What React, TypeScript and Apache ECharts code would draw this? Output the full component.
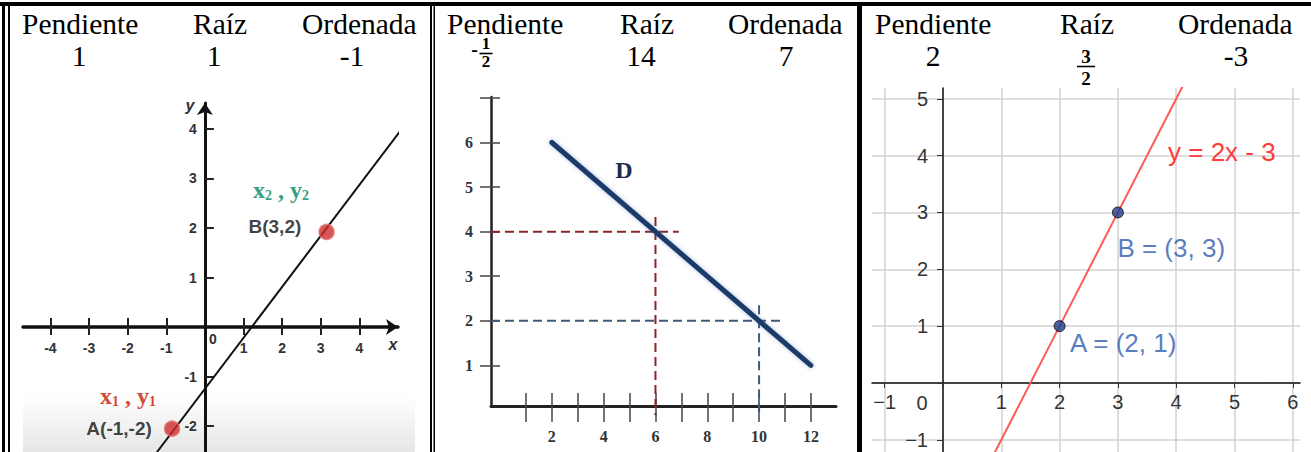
import React, { useEffect, useRef } from "react";
import * as echarts from "echarts";

// ---------- data ----------
const headerTitles = ["Pendiente", "Raíz", "Ordenada"];
const slopes = ["1", "-1/2", "2"];
const roots = ["1", "14", "3/2"];
const intercepts = ["-1", "7", "-3"];

// cell 1
const line1Values = [[-1.24, -2.52], [5.13, 4.03]];
const cell1PointNames = ["A(-1,-2)", "B(3,2)"];
const cell1PointValues = [[-0.85, -2.05], [3.15, 1.92]];
const ticks1X = [-4, -3, -2, -1, 1, 2, 3, 4];
const ticks1Y = [-2, -1, 1, 2, 3, 4];

// cell 2
const lineDValues = [[2, 6], [12, 1]];
const redGuideH = [[-0.35, 4], [6.9, 4]];
const redGuideV = [[6, 4.33], [6, -0.12]];
const blueGuideH = [[-0.35, 2], [10.95, 2]];
const blueGuideV = [[10, 2.35], [10, -0.12]];
const ticks2X = [1, 2, 3, 4, 5, 6, 7, 8, 9, 10, 11, 12];
const labels2X = [2, 4, 6, 8, 10, 12];
const ticks2Y = [1, 2, 3, 4, 5, 6, 7];
const labels2Y = [1, 2, 3, 4, 5, 6];

// cell 3
const line3Values = [[0.8, -1.4], [4.2, 5.4]];
const cell3PointNames = ["A = (2, 1)", "B = (3, 3)"];
const cell3PointValues = [[2, 1], [3, 3]];
const grid3X = [-1, 0, 1, 2, 3, 4, 5, 6];
const labels3X = [-1, 1, 2, 3, 4, 5, 6];
const grid3Y = [-1, 0, 1, 2, 3, 4, 5];
const labels3Y = [-1, 1, 2, 3, 4, 5];
const equation3 = "y = 2x - 3";

// ---------- layout / style ----------
const SERIF = "'Liberation Serif', 'Times New Roman', serif";
const SANS = "'Liberation Sans', Arial, sans-serif";

const G1 = { left: 23, top: 103, width: 375, height: 349, xMin: -4.71, xMax: 5.0, yMin: -2.52, yMax: 4.52 };
const G2 = { left: 491, top: 97, width: 345, height: 309, xMin: -0.35, xMax: 12.97, yMin: 0.09, yMax: 7.02 };
const G3 = { left: 872, top: 88, width: 428, height: 364, xMin: -1.218, xMax: 6.124, yMin: -1.215, yMax: 5.19 };

// offsets that put an axis on the other axis' zero
const xOffsetOnZero = (g: any) => -(g.height * (0 - g.yMin)) / (g.yMax - g.yMin);
const yOffsetOnZero = (g: any) => -(g.width * (0 - g.xMin)) / (g.xMax - g.xMin);

const titleX = [[22, 193, 302], [447, 620, 728], [875, 1060, 1178]];
const valueCX = [[79, 214, 352], [486, 641, 786], [933, 1086, 1236]];
const fracLayout = [
  null,
  { size: 17, num: 43, bar: 53.5, den: 61.5, half: 6.5, minusX: 474.5, lh: 15 },
  { size: 19, num: 56.5, bar: 66.5, den: 78.5, half: 9, minusX: 0, lh: 19 },
];

function txt(x: number, y: number, text: string, opts: any = {}) {
  const align = opts.align || "left";
  return {
    type: "text",
    x,
    y,
    z: 20,
    style: {
      text,
      fontFamily: opts.family || SERIF,
      fontSize: opts.size || 29.5,
      fontWeight: opts.weight || "normal",
      fontStyle: opts.style || "normal",
      fill: opts.color || "#000",
      align,
      textAlign: align,
      verticalAlign: "middle",
      textVerticalAlign: "middle",
      lineHeight: opts.lineHeight,
      rich: opts.rich,
    },
  };
}

function buildHeader() {
  const els: any[] = [];
  for (let c = 0; c < 3; c++) {
    headerTitles.forEach((t, i) => els.push(txt(titleX[c][i], 24, t)));
    const vals = [slopes[c], roots[c], intercepts[c]];
    vals.forEach((v, i) => {
      const cx = valueCX[c][i];
      if (v.includes("/")) {
        const f = fracLayout[c]!;
        const neg = v.startsWith("-");
        const [n, d] = v.replace("-", "").split("/");
        if (neg) els.push(txt(f.minusX, f.num + 6, "-", { size: 20, weight: "bold", align: "center", lineHeight: 8 }));
        els.push(txt(cx, f.num, n, { size: f.size, weight: "bold", align: "center", lineHeight: f.lh }));
        els.push({
          type: "line",
          z: 20,
          shape: { x1: cx - f.half, y1: f.bar, x2: cx + f.half, y2: f.bar },
          style: { stroke: "#000", lineWidth: 1.6 },
        });
        els.push(txt(cx, f.den, d, { size: f.size, weight: "bold", align: "center", lineHeight: f.lh }));
      } else {
        els.push(txt(cx, 56, v, { align: "center" }));
      }
    });
  }
  return els;
}

function buildBorders() {
  const r = (x: number, y: number, w: number, h: number) => ({
    type: "rect",
    z: 30,
    shape: { x, y, width: w, height: h },
    style: { fill: "#000" },
  });
  return [
    r(0, 2, 1311, 4),
    r(2, 2, 3, 450),
    r(8, 6, 2, 446),
    r(430, 2, 2, 450),
    r(433.5, 2, 1.5, 450),
    r(857, 2, 5, 450),
  ];
}

const gridOf = (g: any) => ({
  left: g.left, top: g.top, width: g.width, height: g.height,
  containLabel: false, outerBoundsMode: "none",
});

const minus = (v: number) => String(v).replace("-", "\u2212");

const option: any = {
  animation: false,
  backgroundColor: "#ffffff",
  grid: [gridOf(G1), gridOf(G2), gridOf(G3)],
  xAxis: [
    {
      type: "value", gridIndex: 0, min: G1.xMin, max: G1.xMax, position: "bottom", offset: xOffsetOnZero(G1),
      axisLine: { show: true, onZero: false, symbol: ["none", "arrow"], symbolSize: [12, 12], lineStyle: { color: "#111", width: 3.5 } },
      axisTick: { show: true, inside: true, length: 9, customValues: ticks1X, lineStyle: { color: "#222", width: 2 } },
      axisLabel: { show: true, customValues: ticks1X, margin: 14, fontFamily: SANS, fontWeight: "bold", fontSize: 14, color: "#333" },
      splitLine: { show: false },
    },
    {
      type: "value", gridIndex: 0, min: G1.xMin, max: G1.xMax, position: "bottom", offset: xOffsetOnZero(G1),
      axisLine: { show: false, onZero: false },
      axisTick: { show: true, inside: false, length: 8, customValues: ticks1X, lineStyle: { color: "#222", width: 2 } },
      axisLabel: { show: false },
      splitLine: { show: false },
    },
    {
      type: "value", gridIndex: 1, min: G2.xMin, max: G2.xMax, position: "bottom",
      axisLine: { show: true, onZero: false, lineStyle: { color: "#222", width: 3 } },
      axisTick: { show: true, inside: false, length: 16, customValues: ticks2X, lineStyle: { color: "#444", width: 1.5 } },
      axisLabel: { show: true, customValues: labels2X, margin: 22, fontFamily: SERIF, fontWeight: "bold", fontSize: 16, color: "#333" },
      splitLine: { show: false },
    },
    {
      type: "value", gridIndex: 1, min: G2.xMin, max: G2.xMax, position: "bottom",
      axisLine: { show: false, onZero: false },
      axisTick: { show: true, inside: true, length: 13, customValues: ticks2X, lineStyle: { color: "#444", width: 1.5 } },
      axisLabel: { show: false },
      splitLine: { show: false },
    },
    {
      type: "value", gridIndex: 2, min: G3.xMin, max: G3.xMax, position: "bottom", offset: xOffsetOnZero(G3),
      axisLine: { show: true, onZero: false, lineStyle: { color: "#111", width: 1.5 } },
      axisTick: { show: true, inside: false, length: 5, customValues: grid3X, lineStyle: { color: "#333", width: 1 } },
      axisLabel: { show: true, customValues: labels3X, margin: 9, fontFamily: SANS, fontSize: 20, color: "#333", formatter: minus },
      splitLine: { show: true, lineStyle: { color: "#d2d2d2", width: 1.5 } },
    },
  ],
  yAxis: [
    {
      type: "value", gridIndex: 0, min: G1.yMin, max: G1.yMax, position: "left", offset: yOffsetOnZero(G1),
      axisLine: { show: true, onZero: false, symbol: ["none", "arrow"], symbolSize: [12, 12], lineStyle: { color: "#111", width: 3 } },
      axisTick: { show: true, inside: true, length: 9, customValues: ticks1Y, lineStyle: { color: "#222", width: 2 } },
      axisLabel: { show: true, customValues: ticks1Y, margin: 8, fontFamily: SANS, fontWeight: "bold", fontSize: 14, color: "#333" },
      splitLine: { show: false },
    },
    {
      type: "value", gridIndex: 1, min: G2.yMin, max: G2.yMax, position: "left",
      axisLine: { show: true, onZero: false, lineStyle: { color: "#222", width: 2.5 } },
      axisTick: { show: true, inside: false, length: 11, customValues: ticks2Y, lineStyle: { color: "#444", width: 1.5 } },
      axisLabel: { show: true, customValues: labels2Y, margin: 18, fontFamily: SERIF, fontWeight: "bold", fontSize: 16, color: "#333" },
      splitLine: { show: false },
    },
    {
      type: "value", gridIndex: 1, min: G2.yMin, max: G2.yMax, position: "left",
      axisLine: { show: false, onZero: false },
      axisTick: { show: true, inside: true, length: 9, customValues: ticks2Y, lineStyle: { color: "#444", width: 1.5 } },
      axisLabel: { show: false },
      splitLine: { show: false },
    },
    {
      type: "value", gridIndex: 2, min: G3.yMin, max: G3.yMax, position: "left", offset: yOffsetOnZero(G3),
      axisLine: { show: true, onZero: false, lineStyle: { color: "#111", width: 1.5 } },
      axisTick: { show: true, inside: false, length: 6, customValues: grid3Y, lineStyle: { color: "#333", width: 1 } },
      axisLabel: { show: true, customValues: labels3Y, margin: 15, fontFamily: SANS, fontSize: 20, color: "#333", formatter: minus },
      splitLine: { show: true, lineStyle: { color: "#d2d2d2", width: 1.5 } },
    },
  ],
  series: [
    {
      type: "line", xAxisIndex: 0, yAxisIndex: 0, data: line1Values, symbol: "none", silent: true, z: 3,
      lineStyle: { color: "#111", width: 2 },
    },
    {
      type: "scatter", xAxisIndex: 0, yAxisIndex: 0, z: 4, symbolSize: 15,
      itemStyle: { color: "#cc2a2a", borderColor: "#e87070", borderWidth: 1.5 },
      label: { show: true, formatter: "{b}", position: "left", fontFamily: SANS, fontWeight: "bold", fontSize: 19, color: "#111" },
      data: cell1PointNames.map((n, i) => ({
        name: n,
        value: cell1PointValues[i],
        label: i === 0 ? { distance: 12 } : { distance: 17, offset: [0, -5] },
      })),
    },
    {
      type: "line", xAxisIndex: 2, yAxisIndex: 1, data: redGuideH, symbol: "none", silent: true, z: 2,
      lineStyle: { color: "#8b2525", width: 2, type: [9, 5] },
    },
    {
      type: "line", xAxisIndex: 2, yAxisIndex: 1, data: redGuideV, symbol: "none", silent: true, z: 2, clip: false,
      lineStyle: { color: "#8b2525", width: 2, type: [9, 5] },
    },
    {
      type: "line", xAxisIndex: 2, yAxisIndex: 1, data: blueGuideH, symbol: "none", silent: true, z: 2,
      lineStyle: { color: "#3f5a78", width: 2, type: [9, 5] },
    },
    {
      type: "line", xAxisIndex: 2, yAxisIndex: 1, data: blueGuideV, symbol: "none", silent: true, z: 2, clip: false,
      lineStyle: { color: "#3f5a78", width: 2, type: [9, 5] },
    },
    {
      type: "line", xAxisIndex: 2, yAxisIndex: 1, data: lineDValues, symbol: "none", silent: true, z: 3,
      lineStyle: { color: "#1c3a68", width: 5, cap: "round", shadowColor: "rgba(70,110,180,0.45)", shadowBlur: 4 },
    },
    {
      type: "line", xAxisIndex: 4, yAxisIndex: 3, data: line3Values, symbol: "none", silent: true, z: 3,
      lineStyle: { color: "#ff5a5a", width: 2 },
    },
    {
      type: "scatter", xAxisIndex: 4, yAxisIndex: 3, z: 4, symbolSize: 11,
      itemStyle: { color: "#1b3c8c", borderColor: "#0a0a0a", borderWidth: 1 },
      label: { show: true, formatter: "{b}", fontFamily: SANS, fontSize: 26, color: "#2e5bb0", align: "left", verticalAlign: "middle" },
      data: cell3PointNames.map((n, i) => ({
        name: n,
        value: cell3PointValues[i],
        label: { position: i === 0 ? [16.5, 22.5] : [5.5, 41.5] },
      })),
    },
  ],
  graphic: [
    {
      type: "rect",
      z: -10,
      shape: { x: 23, y: 395, width: 392, height: 57 },
      style: {
        fill: new echarts.graphic.LinearGradient(0, 0, 0, 1, [
          { offset: 0, color: "rgba(255,255,255,1)" },
          { offset: 1, color: "#e6e6e6" },
        ]),
      },
    },
    ...buildHeader(),
    ...buildBorders(),
    // cell 1 annotations
    txt(190, 105, "y", { family: SANS, size: 16, weight: "bold", style: "italic", color: "#333", align: "center" }),
    txt(393, 344, "x", { family: SANS, size: 16, weight: "bold", style: "italic", color: "#333", align: "center" }),
    txt(213, 339, "0", { family: SANS, size: 14, weight: "bold", color: "#333", align: "center" }),
    txt(253, 190, "{a|x}{b|2}{a| , y}{b|2}", {
      color: "#35a080",
      rich: {
        a: { fontFamily: SERIF, fontSize: 24, fontWeight: "bold", fill: "#35a080", color: "#35a080" },
        b: { fontFamily: SERIF, fontSize: 14, fontWeight: "bold", fill: "#35a080", color: "#35a080", verticalAlign: "bottom" },
      },
    }),
    txt(100, 396, "{a|x}{b|1}{a| , y}{b|1}", {
      color: "#d44a35",
      rich: {
        a: { fontFamily: SERIF, fontSize: 24, fontWeight: "bold", fill: "#d44a35", color: "#d44a35" },
        b: { fontFamily: SERIF, fontSize: 14, fontWeight: "bold", fill: "#d44a35", color: "#d44a35", verticalAlign: "bottom" },
      },
    }),
    // cell 2 annotation
    txt(624, 170, "D", { size: 24, weight: "bold", color: "#1d2d4f", align: "center" }),
    // cell 3 annotations
    txt(922, 403, "0", { family: SANS, size: 20, color: "#333", align: "center" }),
    txt(1168, 152, equation3, { family: SANS, size: 26, color: "#ff3b3b" }),
  ],
};

export default function App() {
  const ref = useRef<HTMLDivElement>(null);
  useEffect(() => {
    document.body.style.margin = "0";
    document.body.style.overflow = "hidden";
    const chart = echarts.init(ref.current!, null, { renderer: "svg" });
    chart.setOption(option);
    return () => chart.dispose();
  }, []);
  return (
    <div
      ref={ref}
      style={{ position: "absolute", left: 0, top: 0, width: 1311, height: 452 }}
    />
  );
}
